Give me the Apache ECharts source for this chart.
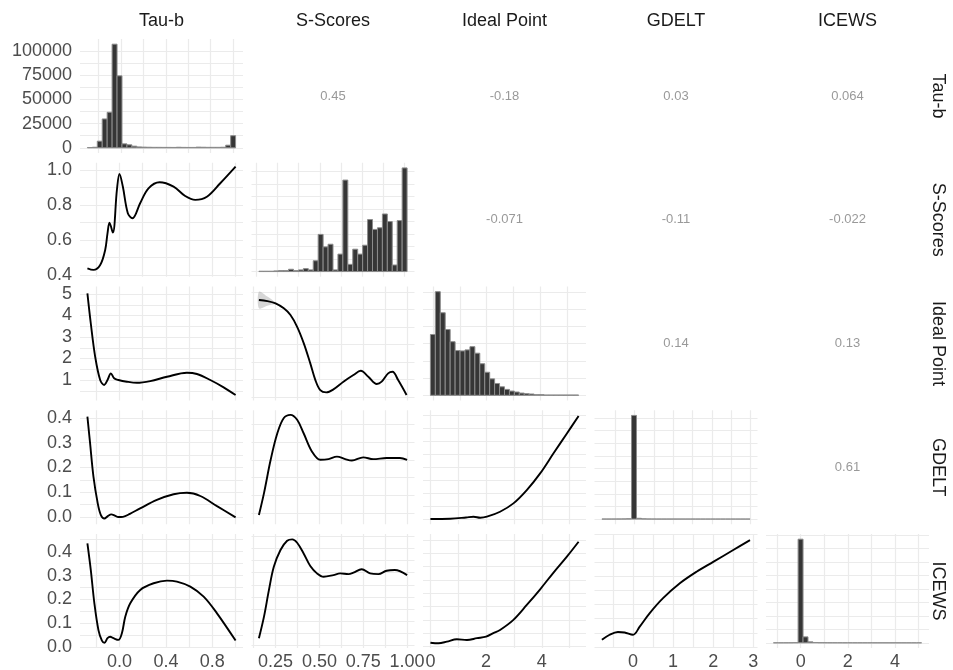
<!DOCTYPE html>
<html><head><meta charset="utf-8">
<script src="https://cdn.jsdelivr.net/npm/echarts@6/dist/echarts.min.js"></script>
<style>html,body{margin:0;padding:0;background:#fff}#c{width:953px;height:670px}</style>
</head><body><div id="c"></div>
<script>
// ---------------- DATA ----------------
const variables = ['Tau-b', 'S-Scores', 'Ideal Point', 'GDELT', 'ICEWS'];

// observed data ranges of each variable
const tauRange = [-0.276, 1.0];
const sRange = [0.155, 1.0];
const ipRange = [0, 5.32];
const gdeltRange = [-0.775, 2.92];
const icewsRange = [-1.053, 5.022];

// histogram counts (30 bins each) on the diagonal
const tauCounts = [300, 600, 6850, 29800, 36700, 107000, 74300, 4100, 3100, 1700, 900, 700, 600, 500, 500, 450, 450, 400, 600, 450, 400, 400, 700, 600, 500, 500, 500, 600, 2700, 12500];
const sCounts = [7, 7, 7, 13, 20, 20, 46, 20, 33, 59, 33, 216, 741, 492, 545, 33, 348, 1824, 144, 446, 348, 525, 1037, 840, 873, 1148, 997, 131, 1017, 2066];
const ipCounts = [884, 1506, 1200, 956, 779, 650, 645, 660, 707, 612, 459, 335, 239, 172, 124, 86, 62, 48, 33, 24, 19, 10, 10, 5, 5, 5, 5, 5, 5, 5];
const gdeltCounts = [100, 100, 150, 200, 300, 600, 205000, 1500, 500, 200, 150, 100, 100, 80, 80, 60, 60, 50, 50, 50, 40, 40, 40, 30, 30, 30, 30, 30, 30, 30];
const icewsCounts = [50, 50, 80, 100, 300, 192000, 11000, 1800, 600, 300, 200, 150, 100, 100, 80, 80, 60, 60, 50, 50, 40, 40, 40, 30, 30, 30, 30, 30, 30, 30];

// correlations in the upper triangle (row by row)
const corRow1 = [0.45, -0.18, 0.03, 0.064];
const corRow2 = [-0.071, -0.11, -0.022];
const corRow3 = [0.14, 0.13];
const corRow4 = [0.61];

// smoothed curves in the lower triangle: [x, fitted y]
const smoothTauS = [[-0.276,0.438],[-0.224,0.429],[-0.166,0.457],[-0.123,0.543],[-0.103,0.638],[-0.086,0.699],[-0.057,0.642],[-0.022,0.886],[0.0,0.977],[0.029,0.905],[0.072,0.753],[0.112,0.724],[0.178,0.810],[0.25,0.895],[0.345,0.930],[0.466,0.905],[0.566,0.851],[0.653,0.829],[0.753,0.847],[0.868,0.924],[1.0,1.019]];
const smoothTauIP = [[-0.276,5.03],[-0.247,3.64],[-0.209,2.08],[-0.166,1.0],[-0.132,0.77],[-0.103,1.0],[-0.074,1.31],[-0.046,1.08],[-0.009,1.0],[0.064,0.92],[0.15,0.87],[0.265,0.95],[0.409,1.15],[0.581,1.34],[0.667,1.28],[0.782,1.0],[0.897,0.66],[1.0,0.30]];
const smoothSIP = [[0.155,5.53],[0.203,5.47],[0.25,5.34],[0.297,5.06],[0.335,4.68],[0.373,4.01],[0.411,3.07],[0.448,1.93],[0.477,0.98],[0.505,0.41],[0.539,0.28],[0.58,0.45],[0.637,0.89],[0.694,1.27],[0.736,1.51],[0.779,1.17],[0.827,0.76],[0.855,0.89],[0.892,1.36],[0.917,1.45],[0.949,0.98],[0.997,0.13]];
const ribbonSIPx = [0.155, 0.203, 0.25, 0.297];
const ribbonSIPlow = [5.06, 5.21, 5.28, 5.04];
const ribbonSIPhigh = [6.00, 5.73, 5.40, 5.08];
const smoothTauGDELT = [[-0.276,0.405],[-0.253,0.298],[-0.224,0.163],[-0.187,0.055],[-0.160,0.008],[-0.130,-0.006],[-0.100,0.004],[-0.070,0.011],[-0.040,0.006],[-0.010,0.000],[0.030,0.001],[0.090,0.013],[0.178,0.035],[0.322,0.069],[0.466,0.092],[0.581,0.098],[0.696,0.085],[0.84,0.044],[1.0,-0.001]];
const smoothSGDELT = [[0.155,0.094],[0.184,0.156],[0.222,0.25],[0.26,0.325],[0.297,0.368],[0.335,0.377],[0.373,0.363],[0.41,0.325],[0.458,0.273],[0.505,0.25],[0.552,0.252],[0.6,0.259],[0.647,0.252],[0.685,0.248],[0.75,0.257],[0.807,0.252],[0.883,0.255],[0.959,0.255],[1.0,0.25]];
const smoothIPGDELT = [[0.0,0.001],[0.71,0.002],[1.28,0.007],[1.55,0.010],[1.79,0.006],[2.03,0.010],[2.50,0.029],[2.98,0.061],[3.46,0.112],[3.94,0.176],[4.42,0.253],[4.90,0.329],[5.32,0.396]];
const smoothTauICEWS = [[-0.276,0.435],[-0.247,0.324],[-0.216,0.184],[-0.181,0.072],[-0.151,0.028],[-0.129,0.019],[-0.103,0.038],[-0.08,0.044],[-0.052,0.038],[-0.009,0.031],[0.021,0.059],[0.05,0.128],[0.093,0.184],[0.179,0.24],[0.294,0.268],[0.409,0.279],[0.495,0.275],[0.61,0.254],[0.725,0.212],[0.84,0.142],[1.0,0.028]];
const smoothSICEWS = [[0.155,0.030],[0.184,0.119],[0.212,0.228],[0.240,0.324],[0.278,0.393],[0.316,0.431],[0.345,0.437],[0.373,0.423],[0.410,0.379],[0.448,0.327],[0.486,0.297],[0.524,0.283],[0.580,0.290],[0.618,0.297],[0.666,0.294],[0.694,0.300],[0.741,0.314],[0.789,0.297],[0.836,0.294],[0.883,0.308],[0.930,0.311],[1.0,0.290]];
const smoothIPICEWS = [[0.0,0.014],[0.29,0.012],[0.59,0.018],[0.95,0.027],[1.31,0.024],[1.67,0.031],[2.0,0.037],[2.26,0.05],[2.5,0.062],[2.98,0.1],[3.46,0.156],[3.94,0.215],[4.42,0.278],[4.9,0.338],[5.32,0.394]];
const smoothGDELTICEWS = [[-0.775,0.025],[-0.583,0.043],[-0.375,0.053],[-0.208,0.051],[0.0,0.043],[0.168,0.072],[0.418,0.12],[0.75,0.173],[1.168,0.226],[1.585,0.267],[2.0,0.302],[2.5,0.344],[2.918,0.379]];

// axis tick labels
const xTickLabels = [[0, 0.4, 0.8], [0.25, 0.5, 0.75, 1.0], [0, 2, 4], [0, 1, 2, 3], [0, 2, 4]];
const yTickLabels = [[0, 25000, 50000, 75000, 100000], [0.4, 0.6, 0.8, 1.0], [1, 2, 3, 4, 5], [0, 0.1, 0.2, 0.3, 0.4], [0, 0.1, 0.2, 0.3, 0.4]];

// ---------------- LAYOUT / STYLE ----------------
const L0 = 80, CP = 171.5, PW = 163, T0 = 39, RP = 123.75, PH = 114;
const FONT = "'Liberation Sans', Arial, Helvetica, sans-serif";
const GRID_COLOR = '#ebebeb';
function seq(a, b, s) { const out = []; for (let v = a; v <= b + s * 1e-6; v += s) out.push(+v.toFixed(6)); return out; }
const xLinesCol = [seq(-0.2, 1.0, 0.2), seq(0.125, 1.0, 0.125), seq(0, 5, 1), seq(-0.5, 3, 0.5), seq(-1, 5, 1)];
const xFmt = [v => v.toFixed(1), v => v.toFixed(2), v => String(v), v => String(v), v => String(v)];
const yFmt = [v => String(v), v => v.toFixed(1), v => String(v), v => v.toFixed(1), v => v.toFixed(1)];
const ranges = [tauRange, sRange, ipRange, gdeltRange, icewsRange];
const counts = [tauCounts, sCounts, ipCounts, gdeltCounts, icewsCounts];
const cors = [corRow1, corRow2, corRow3, corRow4];

function expand(r) { const s = r[1] - r[0]; return [r[0] - 0.05 * s, r[1] + 0.05 * s]; }
function histEdges(i) { const r = ranges[i], n = counts[i].length; const w = (r[1] - r[0]) / (n - 1); return { e0: r[0] - w / 2, w: w, n: n }; }

// lower panels: y-axis limits and grid line values
const lowerY = {
  '1,0': { lim: [0.39, 1.041], lines: seq(0.4, 1.0, 0.1), data: smoothTauS },
  '2,0': { lim: [0.047, 5.349], lines: seq(0.5, 5, 0.5), data: smoothTauIP },
  '2,1': { lim: [-0.18, 6.30], lines: seq(0, 6, 1), data: smoothSIP, ribbon: true },
  '3,0': { lim: [-0.029, 0.431], lines: seq(0, 0.4, 0.05), data: smoothTauGDELT },
  '3,1': { lim: [0.068, 0.390], lines: seq(0.1, 0.35, 0.05), data: smoothSGDELT },
  '3,2': { lim: [-0.019, 0.418], lines: seq(0, 0.4, 0.05), data: smoothIPGDELT },
  '4,0': { lim: [-0.003, 0.474], lines: seq(0, 0.45, 0.05), data: smoothTauICEWS },
  '4,1': { lim: [-0.010, 0.459], lines: seq(0, 0.45, 0.05), data: smoothSICEWS },
  '4,2': { lim: [-0.006, 0.423], lines: seq(0, 0.4, 0.05), data: smoothIPICEWS },
  '4,3': { lim: [-0.004, 0.401], lines: seq(0, 0.4, 0.05), data: smoothGDELTICEWS }
};
const histYLines = [seq(0, 100000, 12500), seq(0, 2000, 250), seq(0, 1500, 250), seq(0, 200000, 25000), seq(0, 200000, 25000)];

const grids = [], xAxes = [], yAxes = [], series = [];
const labelStyle = { color: '#4d4d4d', fontSize: 18, fontFamily: FONT };

function addGrid(r, c) {
  grids.push({ left: L0 + c * CP, top: T0 + r * RP, width: PW, height: PH, containLabel: false, outerBoundsMode: 'none' });
  return grids.length - 1;
}
function makeX(gi, c, lim, lines, showLab) {
  return {
    type: 'value', gridIndex: gi, min: lim[0], max: lim[1],
    axisLine: { show: false }, axisTick: { show: false, customValues: lines },
    splitLine: { show: !!lines, lineStyle: { color: GRID_COLOR, width: 1.2 } },
    axisLabel: showLab ? Object.assign({ show: true, customValues: xTickLabels[c], formatter: xFmt[c], margin: 5 }, labelStyle) : { show: false }
  };
}
function makeY(gi, r, lim, lines, showLab) {
  return {
    type: 'value', gridIndex: gi, min: lim[0], max: lim[1],
    axisLine: { show: false }, axisTick: { show: false, customValues: lines },
    splitLine: { show: !!lines, lineStyle: { color: GRID_COLOR, width: 1.2 } },
    axisLabel: showLab ? Object.assign({ show: true, customValues: yTickLabels[r], formatter: yFmt[r], margin: 8 }, labelStyle) : { show: false }
  };
}

for (let r = 0; r < 5; r++) {
  for (let c = 0; c < 5; c++) {
    const gi = addGrid(r, c);
    if (c > r) {
      // upper: correlation text
      xAxes.push({ type: 'value', gridIndex: gi, min: 0, max: 1, show: false });
      yAxes.push({ type: 'value', gridIndex: gi, min: 0, max: 1, show: false });
      const v = cors[r][c - r - 1];
      series.push({
        type: 'scatter', xAxisIndex: gi, yAxisIndex: gi, symbolSize: 1, silent: true,
        itemStyle: { color: 'rgba(0,0,0,0)' },
        data: [[0.5, 0.5]],
        label: { show: true, position: 'inside', formatter: () => String(v), color: '#808080', fontSize: 13, fontFamily: FONT }
      });
    } else if (c === r) {
      // diagonal histogram
      const h = histEdges(c);
      const eN = h.e0 + h.n * h.w;
      const xl = expand([h.e0, eN]);
      const H = Math.max.apply(null, counts[c]);
      xAxes.push(makeX(gi, c, xl, xLinesCol[c], r === 4));
      yAxes.push(makeY(gi, r, [-0.05 * H, 1.05 * H], histYLines[c], c === 0));
      const data = counts[c].map((n, i) => [h.e0 + i * h.w, h.e0 + (i + 1) * h.w, n]);
      series.push({
        type: 'custom', xAxisIndex: gi, yAxisIndex: gi, data: data, encode: { x: [0, 1], y: 2 }, silent: true,
        renderItem: function (params, api) {
          const a = api.coord([api.value(0), api.value(2)]);
          const b = api.coord([api.value(1), 0]);
          return { type: 'rect', shape: { x: a[0], y: a[1], width: b[0] - a[0], height: b[1] - a[1] },
                   style: { fill: '#363636', stroke: '#8c8c8c', lineWidth: 1 } };
        }
      });
    } else {
      const cfg = lowerY[r + ',' + c];
      xAxes.push(makeX(gi, c, expand(ranges[c]), xLinesCol[c], r === 4));
      yAxes.push(makeY(gi, r, cfg.lim, cfg.lines, c === 0));
      if (cfg.ribbon) {
        series.push({
          type: 'custom', xAxisIndex: gi, yAxisIndex: gi, silent: true, data: [[ribbonSIPx[0], ribbonSIPhigh[0]]],
          renderItem: function (params, api) {
            const pts = [];
            for (let i = 0; i < ribbonSIPx.length; i++) pts.push(api.coord([ribbonSIPx[i], ribbonSIPhigh[i]]));
            for (let i = ribbonSIPx.length - 1; i >= 0; i--) pts.push(api.coord([ribbonSIPx[i], ribbonSIPlow[i]]));
            return { type: 'polygon', shape: { points: pts, smooth: 0.3 }, style: { fill: 'rgba(153,153,153,0.4)' } };
          }
        });
      }
      series.push({
        type: 'line', xAxisIndex: gi, yAxisIndex: gi, data: cfg.data, smooth: 0.35, showSymbol: false, silent: true,
        lineStyle: { color: '#000', width: 1.9 }, z: 3
      });
    }
  }
}

// strip labels
const graphics = [];
variables.forEach((name, i) => {
  graphics.push({ type: 'text', x: L0 + i * CP + PW / 2, y: 21,
    style: { text: name, fill: '#1a1a1a', font: '18px ' + FONT, textAlign: 'center', textVerticalAlign: 'middle' } });
  graphics.push({ type: 'text', x: 938, y: T0 + i * RP + PH / 2, rotation: -Math.PI / 2,
    style: { text: name, fill: '#1a1a1a', font: '18px ' + FONT, textAlign: 'center', textVerticalAlign: 'middle' } });
});

const chart = echarts.init(document.getElementById('c'));
chart.setOption({
  animation: false,
  backgroundColor: '#fff',
  grid: grids, xAxis: xAxes, yAxis: yAxes, series: series,
  graphic: graphics
});
</script></body></html>
